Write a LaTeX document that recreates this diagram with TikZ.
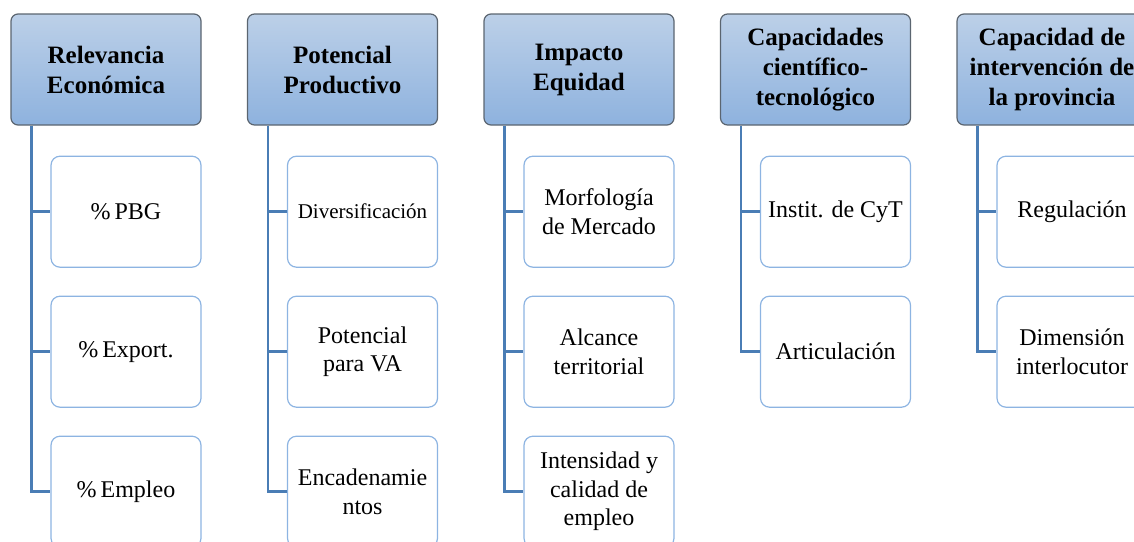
\documentclass[tikz,border=0pt]{standalone}
\usepackage{fontspec}
\setmainfont{Liberation Serif}
\usetikzlibrary{positioning}

\definecolor{headtop}{HTML}{BCD0E8}
\definecolor{headbot}{HTML}{8EB2DE}
\definecolor{headline}{HTML}{5B6570}
\definecolor{leafline}{HTML}{8DB4E2}
\definecolor{linkblue}{HTML}{4A7DB5}

\begin{document}
\begin{tikzpicture}[
    x=1pt, y=1pt,
    node distance=27.8pt,
    head/.style={
        draw=headline,
        top color=headtop,
        bottom color=headbot,
        rounded corners=7pt,
        line width=1.2pt,
        align=center,
        minimum width=190pt,
        minimum height=111pt,
        inner sep=2pt,
        font=\bfseries\fontsize{25}{30}\selectfont
    },
    leaf/.style={
        draw=leafline,
        fill=white,
        rounded corners=9pt,
        line width=1.2pt,
        align=center,
        minimum width=150pt,
        minimum height=111pt,
        inner sep=2pt,
        font=\fontsize{24}{28.5}\selectfont
    },
    link/.style={draw=linkblue, line width=2.8pt}
]
\clip (0,0) rectangle (1134,-541);

% cabeceras
\node[head] (rel) at (106,-69.5) {Relevancia\\Económica};
\node[head, right=45.3pt of rel] (pot) {Potencial\\Productivo};
\node[head, right=45.3pt of pot] (imp) {Impacto\\Equidad};
\node[head, right=45.3pt of imp] (cap) {Capacidades\\científico-\\tecnológico};
\node[head, right=45.3pt of cap] (prov) {Capacidad de\\intervención de\\la provincia};

% hojas
\node[leaf, below left=30pt and 0pt of rel.south east] (pbg) {\%\,PBG};
\node[leaf, below=of pbg] (export) {\%\,Export.};
\node[leaf, below=of export] (empleo) {\%\,Empleo};

\node[leaf, below left=30pt and 0pt of pot.south east] (divers) {\fontsize{21}{26}\selectfont Diversificación};
\node[leaf, below=of divers] (va) {Potencial\\para VA};
\node[leaf, below=of va] (encad) {Encadenamie\\ntos};

\node[leaf, below left=30pt and 0pt of imp.south east] (morf) {Morfología\\de Mercado};
\node[leaf, below=of morf] (alcance) {Alcance\\territorial};
\node[leaf, below=of alcance] (intens) {Intensidad y\\calidad de\\empleo};

\node[leaf, below left=30pt and 0pt of cap.south east] (instit) {Instit. de CyT};
\node[leaf, below=of instit] (artic) {Articulación};

\node[leaf, below left=30pt and 0pt of prov.south east] (regul) {Regulación};
\node[leaf, below=of regul] (dimen) {Dimensión\\interlocutor};

% troncos
\coordinate (relt) at ([xshift=21pt]rel.south west);
\coordinate (pott) at ([xshift=21pt]pot.south west);
\coordinate (impt) at ([xshift=21pt]imp.south west);
\coordinate (capt) at ([xshift=21pt]cap.south west);
\coordinate (provt) at ([xshift=21pt]prov.south west);

\draw[link] (relt) |- (pbg.west);
\draw[link] (relt) |- (export.west);
\draw[link] (relt) |- (empleo.west);
\draw[link] (pott) |- (divers.west);
\draw[link] (pott) |- (va.west);
\draw[link] (pott) |- (encad.west);
\draw[link] (impt) |- (morf.west);
\draw[link] (impt) |- (alcance.west);
\draw[link] (impt) |- (intens.west);
\draw[link] (capt) |- (instit.west);
\draw[link] (capt) |- (artic.west);
\draw[link] (provt) |- (regul.west);
\draw[link] (provt) |- (dimen.west);

\end{tikzpicture}
\end{document}
